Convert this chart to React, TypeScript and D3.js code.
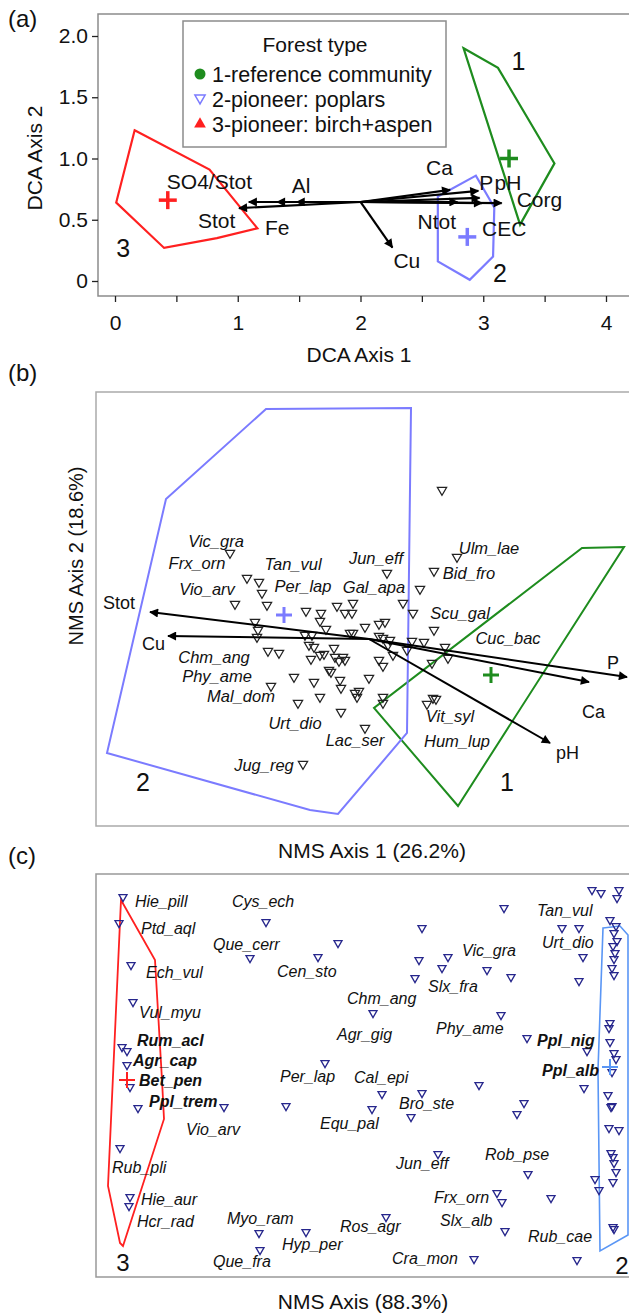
import React, { useEffect, useRef } from 'react';
import * as d3 from 'd3';

const FONT = '"Liberation Sans", Arial, Helvetica, sans-serif';
const GREEN = '#1e8c1e';
const BLUE = '#7b7bff';
const RED = '#ff2020';
const BLUE_C = '#5a96f5';
const NAVY = '#26268c';
const FRAME = '#8c8c8c';

// ---------- panel (a): DCA of soil variables ----------
const dcaXTicks = [0, 0.5, 1, 1.5, 2, 2.5, 3, 3.5, 4];
const dcaYTicks = [0, 0.5, 1, 1.5, 2];
const dcaHull1 = [[2.84, 1.90], [3.12, 1.74], [3.58, 0.96], [3.30, 0.46]];
const dcaHull2 = [[2.63, 0.69], [2.94, 0.86], [3.09, 0.60], [3.08, 0.20], [2.89, 0.01], [2.63, 0.16]];
const dcaHull3 = [[0.16, 1.23], [0.77, 0.91], [1.16, 0.43], [0.83, 0.35], [0.40, 0.27], [0.01, 0.64]];
const dcaCentroids = [[3.21, 1.00], [2.87, 0.36], [0.43, 0.66]];
const dcaGroupLabels = [['1', 3.23, 1.72], ['2', 3.08, -0.01], ['3', 0.01, 0.20]];
const dcaOrigin = [2.0, 0.645];
const dcaVectors = [
  ['Stot', 1.01, 0.595],
  ['SO4/Stot', 1.09, 0.645],
  ['Fe', 1.32, 0.645],
  ['Al', 1.48, 0.645],
  ['Ca', 2.73, 0.744],
  ['P', 2.96, 0.736],
  ['pH', 2.97, 0.678],
  ['Ntot', 2.79, 0.645],
  ['CEC', 2.99, 0.636],
  ['Corg', 3.15, 0.636],
  ['Cu', 2.26, 0.273],
];
// label offsets (px) from arrow head: left x, baseline
const dcaLabelOffset = {
  Stot: [-41, 20], 'SO4/Stot': [-82, -13], Fe: [-12, 33], Al: [-5, -9], Ca: [-24, -15],
  P: [1, -1], pH: [15, -8], Ntot: [-40, 27], CEC: [0, 33], Corg: [15, 4], Cu: [1, 20],
};
const legendTitle = 'Forest type';
const legendItems = ['1-reference community', '2-pioneer: poplars', '3-pioneer: birch+aspen'];

// ---------- panel (b): NMS of species ----------
const nmsBHull1 = [[2.16, 0.92], [2.58, 0.93], [0.92, -1.66], [0.08, -0.68]];
const nmsBHull2 = [[-1.00, 2.31], [0.45, 2.32], [0.41, -0.93], [-0.28, -1.74], [-0.56, -1.70], [-2.59, -1.13], [-2.00, 1.41]];
const nmsBCentroids = [[1.25, -0.35], [-0.82, 0.25]];
const nmsBGroupLabels = [['1', 1.34, -1.51], ['2', -2.30, -1.51]];
const nmsBOrigin = [0.03, 0.01];
const nmsBVectors = [
  ['Stot', -2.16, 0.28],
  ['Cu', -1.98, 0.04],
  ['P', 2.61, -0.37],
  ['Ca', 2.23, -0.42],
  ['pH', 1.84, -1.03],
];
const nmsBLabelOffset = { Stot: [-47, -3], Cu: [-26, 14], P: [-20, -8], Ca: [-7, 36], pH: [6, 16] };
const nmsBSpecies = [
  ['Vic_gra', -1.50, 0.99], ['Frx_orn', -1.69, 0.77], ['Tan_vul', -0.73, 0.76], ['Jun_eff', 0.10, 0.82],
  ['Ulm_lae', 1.23, 0.92], ['Bid_fro', 1.03, 0.67], ['Vio_arv', -1.59, 0.51], ['Per_lap', -0.63, 0.54],
  ['Gal_apa', 0.08, 0.53], ['Scu_gal', 0.94, 0.27], ['Cuc_bac', 1.42, 0.02], ['Chm_ang', -1.52, -0.17],
  ['Phy_ame', -1.49, -0.36], ['Mal_dom', -1.25, -0.56], ['Urt_dio', -0.71, -0.83], ['Vit_syl', 0.84, -0.76],
  ['Lac_ser', -0.11, -1.00], ['Hum_lup', 0.91, -1.01], ['Jug_reg', -1.02, -1.25],
];
const nmsBPoints = [
  [0.76, 1.50], [-1.36, 0.87], [0.91, 0.83], [0.21, 0.67], [0.68, 0.69], [-1.19, 0.62], [-1.07, 0.58],
  [-1.04, 0.47], [-1.31, 0.36], [-0.99, 0.35], [-0.60, 0.29], [-0.45, 0.27], [-0.29, 0.34], [-0.13, 0.37],
  [-0.21, 0.27], [-0.14, 0.27], [0.54, 0.51], [0.37, 0.37], [0.47, 0.27], [0.68, 0.10], [-0.46, 0.19],
  [-0.40, 0.11], [-1.11, 0.18], [-1.08, 0.10], [-1.09, 0.03], [-0.61, 0.05], [-0.54, 0.05], [-0.57, -0.05],
  [-0.52, -0.07], [-0.16, 0.07], [-0.13, 0.07], [-0.01, 0.13], [0.13, 0.16], [0.19, 0.18], [0.13, 0.04],
  [0.17, 0.02], [0.24, 0.00], [0.22, -0.05], [0.46, -0.01], [0.58, -0.02], [0.41, -0.10], [0.79, -0.07],
  [0.82, -0.18], [0.66, -0.23], [0.27, -0.15], [-0.98, -0.11], [-0.87, -0.13], [-0.55, -0.19], [-0.46, -0.15],
  [-0.42, -0.14], [-0.32, -0.08], [-0.31, -0.17], [-0.23, -0.17], [-0.21, -0.20], [-0.27, -0.21], [0.13, -0.20],
  [0.17, -0.26], [-0.37, -0.30], [-0.35, -0.32], [-0.72, -0.37], [-0.52, -0.42], [-0.26, -0.40], [0.03, -0.38],
  [-0.95, -0.46], [-0.07, -0.51], [-0.11, -0.53], [-0.25, -0.48], [-0.46, -0.57], [-0.09, -0.57], [0.17, -0.57],
  [0.17, -0.63], [-0.68, -0.63], [-0.25, -0.72], [-0.01, -0.88], [0.67, -0.58], [0.70, -0.59], [0.61, -0.64],
  [-0.63, -1.24],
];

// ---------- panel (c): NMS of tree/understorey species ----------
const nmsCHull3 = [[-2.41, 1.75], [-2.07, 1.15], [-2.00, -0.05], [-1.98, -0.44], [-2.39, -1.71], [-2.42, -1.68], [-2.54, -1.11]];
const nmsCHull2 = [[2.41, 1.47], [2.58, 1.49], [2.66, 1.40], [2.66, -1.60], [2.38, -1.76], [2.36, 0.05]];
const nmsCCentroids = [[-2.35, -0.05], [2.48, 0.08]];
const nmsCGroupLabels = [['3', -2.39, -1.96], ['2', 2.60, -1.99]];
const nmsCSpecies = [
  ['Hie_pill', -2.27, 1.74, 0], ['Ptd_aql', -2.21, 1.47, 0], ['Ech_vul', -2.16, 1.03, 0], ['Vul_myu', -2.23, 0.63, 0],
  ['Rum_acl', -2.25, 0.35, 1], ['Agr_cap', -2.29, 0.15, 1], ['Bet_pen', -2.23, -0.05, 1], ['Ppl_trem', -2.13, -0.26, 1],
  ['Vio_arv', -1.76, -0.54, 0], ['Rub_pli', -2.50, -0.92, 0], ['Hie_aur', -2.21, -1.24, 0], ['Hcr_rad', -2.25, -1.46, 0],
  ['Cys_ech', -1.30, 1.74, 0], ['Que_cerr', -1.49, 1.31, 0], ['Cen_sto', -0.85, 1.04, 0], ['Chm_ang', -0.15, 0.77, 0],
  ['Agr_gig', -0.25, 0.41, 0], ['Per_lap', -0.82, -0.01, 0], ['Cal_epi', -0.08, -0.02, 0], ['Equ_pal', -0.42, -0.48, 0],
  ['Myo_ram', -1.35, -1.43, 0], ['Hyp_per', -0.80, -1.69, 0], ['Que_fra', -1.49, -1.86, 0], ['Ros_agr', -0.22, -1.51, 0],
  ['Bro_ste', 0.37, -0.28, 0], ['Jun_eff', 0.34, -0.88, 0], ['Rob_pse', 1.23, -0.79, 0], ['Frx_orn', 0.72, -1.22, 0],
  ['Slx_alb', 0.78, -1.45, 0], ['Rub_cae', 1.66, -1.61, 0], ['Cra_mon', 0.30, -1.83, 0], ['Tan_vul', 1.75, 1.65, 0],
  ['Urt_dio', 1.80, 1.33, 0], ['Vic_gra', 1.00, 1.25, 0], ['Slx_fra', 0.66, 0.89, 0], ['Phy_ame', 0.74, 0.47, 0],
  ['Ppl_nig', 1.75, 0.35, 1], ['Ppl_alb', 1.80, 0.05, 1],
];
const nmsCPoints = [
  [-2.39, 1.78], [-2.43, 1.52], [-2.31, 1.10], [-2.29, 0.73], [-2.40, 0.28], [-2.35, 0.24], [-2.35, 0.10],
  [-2.32, -0.12], [-2.24, -0.33], [-2.42, -0.73], [-2.32, -1.22], [-2.33, -1.31],
  [-0.96, 1.53], [-1.12, 1.17], [-0.44, 1.18], [-0.24, 1.32], [0.11, 0.62], [-0.37, 0.12], [-1.38, -0.32],
  [-0.76, -0.31], [0.10, -0.34], [0.20, -0.19], [0.60, -0.18], [0.49, -0.42], [-1.03, -1.58], [-0.56, -1.57],
  [-1.02, -1.75], [0.24, -1.42], [1.42, 1.67], [0.60, 1.47], [0.57, 1.15], [0.86, 1.18], [0.80, 1.07],
  [0.53, 0.97], [1.25, 1.05], [1.49, 0.98], [2.00, 1.47], [2.17, 1.47], [2.21, 1.18], [2.17, 0.94],
  [1.39, 0.60], [1.65, 0.37], [2.25, 0.24], [1.17, -0.10], [2.22, -0.13], [1.62, -0.28], [1.55, -0.39],
  [0.76, -0.79], [1.66, -0.99], [1.35, -1.18], [1.40, -1.27], [1.89, -1.23], [1.43, -1.56], [1.12, -1.84],
  [2.15, -1.85], [2.33, -1.04], [2.37, -1.15],
  [2.30, 1.85], [2.39, 1.82], [2.57, 1.85], [2.55, 1.77], [2.48, 1.55], [2.54, 1.49], [2.52, 1.42],
  [2.55, 1.34], [2.51, 1.29], [2.53, 1.22], [2.52, 1.16], [2.50, 1.07], [2.52, 1.00], [2.48, 0.52],
  [2.47, 0.47], [2.48, 0.33], [2.52, 0.22], [2.54, 0.16], [2.50, 0.03], [2.46, -0.20], [2.49, -0.32],
  [2.50, -0.31], [2.47, -0.53], [2.57, -0.55], [2.49, -0.78], [2.51, -0.82], [2.52, -0.88], [2.54, -0.97],
  [2.51, -1.07], [2.51, -1.52], [2.52, -1.54],
];

// ---------- scales ----------
const xA = d3.scaleLinear().domain([0, 4]).range([115, 606]);
const yA = d3.scaleLinear().domain([0, 2]).range([281, 36]);
const xB = d3.scaleLinear().domain([-2.7, 2.74]).range([96, 640]);
const yB = d3.scaleLinear().domain([-1.86, 2.48]).range([826, 392]);
const xC = d3.scaleLinear().domain([-2.66, 2.78]).range([96, 640]);
const yC = d3.scaleLinear().domain([-2.02, 2.01]).range([1277, 874]);

const hullPath = (pts, sx, sy) =>
  d3.line().x((d) => sx(d[0])).y((d) => sy(d[1])).curve(d3.curveLinearClosed)(pts);

const downTri = (size) => d3.symbol().type(d3.symbolTriangle).size(size)();

const Cross = ({ x, y, r, color, w }) => (
  <g stroke={color} strokeWidth={w}>
    <line x1={x - r} x2={x + r} y1={y} y2={y} />
    <line x1={x} x2={x} y1={y - r} y2={y + r} />
  </g>
);

const App = () => {
  const xAxisRef = useRef(null);
  const yAxisRef = useRef(null);

  useEffect(() => {
    const gx = d3.select(xAxisRef.current);
    gx.call(d3.axisBottom(xA).tickValues(dcaXTicks).tickSize(6).tickPadding(13)
      .tickFormat((d) => (Number.isInteger(d) ? String(d) : '')));
    gx.select('.domain').remove();
    gx.attr('font-size', 21).attr('font-family', FONT);
    gx.selectAll('line').attr('stroke', '#222').attr('stroke-width', 1.3);
    gx.selectAll('text').attr('fill', '#111');

    const gy = d3.select(yAxisRef.current);
    gy.call(d3.axisLeft(yA).tickValues(dcaYTicks).tickSize(6).tickPadding(4)
      .tickFormat((d) => (d === 0 ? '0' : d3.format('.1f')(d))));
    gy.select('.domain').remove();
    gy.attr('font-size', 21).attr('font-family', FONT);
    gy.selectAll('line').attr('stroke', '#222').attr('stroke-width', 1.3);
    gy.selectAll('text').attr('fill', '#111');
  }, []);

  const triB = downTri(38);
  const triC = downTri(28);
  const dcaColors = [GREEN, BLUE, RED];
  const legendSymbols = [
    <circle key="c" cx={200} cy={74} r={5.5} fill={GREEN} />,
    <path key="t" d={downTri(45)} transform="translate(200,98) rotate(180)" fill="none" stroke={BLUE} strokeWidth={1.5} />,
    <path key="u" d={d3.symbol().type(d3.symbolTriangle).size(60)()} transform="translate(200,124)" fill={RED} />,
  ];

  return (
    <svg width={629} height={1315} style={{ position: 'absolute', left: 0, top: 0 }}
      fontFamily={FONT} fill="#111">
      <defs>
        <marker id="headA" viewBox="0 0 10 10" refX="9" refY="5" markerWidth="13" markerHeight="9"
          markerUnits="userSpaceOnUse" orient="auto">
          <path d="M0,0 L10,5 L0,10 z" fill="#000" />
        </marker>
        <marker id="headB" viewBox="0 0 10 10" refX="9" refY="5" markerWidth="15" markerHeight="9"
          markerUnits="userSpaceOnUse" orient="auto">
          <path d="M0,0 L10,5 L0,10 z" fill="#000" />
        </marker>
      </defs>

      {/* ---------- (a) ---------- */}
      <text x={8} y={27} fontSize={24}>(a)</text>
      <path d="M640,14 H98 V296 H640" fill="none" stroke={FRAME} strokeWidth={1.5} />
      <g ref={xAxisRef} transform="translate(0,296)" />
      <g ref={yAxisRef} transform="translate(98,0)" />
      <text x={359} y={362} fontSize={21} textAnchor="middle">DCA  Axis 1</text>
      <text transform="translate(42,158) rotate(-90)" fontSize={21} textAnchor="middle">DCA  Axis 2</text>

      {[dcaHull1, dcaHull2, dcaHull3].map((h, i) => (
        <path key={i} d={hullPath(h, xA, yA)} fill="none" stroke={dcaColors[i]} strokeWidth={2.2} />
      ))}
      {dcaCentroids.map((c, i) => (
        <Cross key={i} x={xA(c[0])} y={yA(c[1])} r={9} color={dcaColors[i]} w={3.5} />
      ))}
      {dcaGroupLabels.map(([t, x, y]) => (
        <text key={t} x={xA(x)} y={yA(y)} fontSize={25}>{t}</text>
      ))}
      {dcaVectors.map(([name, x, y]) => (
        <line key={name} x1={xA(dcaOrigin[0])} y1={yA(dcaOrigin[1])} x2={xA(x)} y2={yA(y)}
          stroke="#000" strokeWidth={2.2} markerEnd="url(#headA)" />
      ))}
      {dcaVectors.map(([name, x, y]) => (
        <text key={name} x={xA(x) + dcaLabelOffset[name][0]} y={yA(y) + dcaLabelOffset[name][1]}
          fontSize={21}>{name}</text>
      ))}

      <rect x={183} y={21} width={263} height={126} fill="#fff" stroke={FRAME} strokeWidth={1.5} />
      <text x={315} y={52} fontSize={21} textAnchor="middle">{legendTitle}</text>
      {legendSymbols}
      {legendItems.map((t, i) => (
        <text key={t} x={212} y={82 + i * 25} fontSize={21.5}>{t}</text>
      ))}

      {/* ---------- (b) ---------- */}
      <text x={8} y={381} fontSize={24}>(b)</text>
      <path d="M640,392 H96 V826 H640" fill="none" stroke="#aaa" strokeWidth={1.5} />
      <text x={372} y={858} fontSize={21} textAnchor="middle">NMS Axis 1 (26.2%)</text>
      <text transform="translate(83,556) rotate(-90)" fontSize={20} textAnchor="middle">NMS Axis 2 (18.6%)</text>

      {[nmsBHull1, nmsBHull2].map((h, i) => (
        <path key={i} d={hullPath(h, xB, yB)} fill="none" stroke={[GREEN, BLUE][i]} strokeWidth={2} />
      ))}
      {nmsBPoints.map((p, i) => (
        <path key={i} d={triB} transform={`translate(${xB(p[0])},${yB(p[1])}) rotate(180)`}
          fill="none" stroke="#222" strokeWidth={1.2} />
      ))}
      {nmsBCentroids.map((c, i) => (
        <Cross key={i} x={xB(c[0])} y={yB(c[1])} r={8} color={[GREEN, BLUE][i]} w={3} />
      ))}
      {nmsBVectors.map(([name, x, y]) => (
        <line key={name} x1={xB(nmsBOrigin[0])} y1={yB(nmsBOrigin[1])} x2={xB(x)} y2={yB(y)}
          stroke="#000" strokeWidth={2} markerEnd="url(#headB)" />
      ))}
      {nmsBVectors.map(([name, x, y]) => (
        <text key={name} x={xB(x) + nmsBLabelOffset[name][0]} y={yB(y) + nmsBLabelOffset[name][1]}
          fontSize={18}>{name}</text>
      ))}
      {nmsBSpecies.map(([name, x, y]) => (
        <text key={name} x={xB(x)} y={yB(y) + 6} fontSize={16.5} fontStyle="italic" textAnchor="middle">{name}</text>
      ))}
      {nmsBGroupLabels.map(([t, x, y]) => (
        <text key={t} x={xB(x)} y={yB(y)} fontSize={25}>{t}</text>
      ))}

      {/* ---------- (c) ---------- */}
      <text x={8} y={864} fontSize={24}>(c)</text>
      <path d="M640,874 H96 V1277 H640" fill="none" stroke="#999" strokeWidth={1.5} />
      <text x={363} y={1309} fontSize={21} textAnchor="middle">NMS Axis (88.3%)</text>

      <path d={hullPath(nmsCHull3, xC, yC)} fill="none" stroke={RED} strokeWidth={1.8} />
      <path d={hullPath(nmsCHull2, xC, yC)} fill="none" stroke={BLUE_C} strokeWidth={1.6} />
      {nmsCPoints.map((p, i) => (
        <path key={i} d={triC} transform={`translate(${xC(p[0])},${yC(p[1])}) rotate(180)`}
          fill="none" stroke={NAVY} strokeWidth={1.3} />
      ))}
      <Cross x={xC(nmsCCentroids[0][0])} y={yC(nmsCCentroids[0][1])} r={8} color={RED} w={2} />
      <Cross x={xC(nmsCCentroids[1][0])} y={yC(nmsCCentroids[1][1])} r={8} color={BLUE_C} w={2} />
      {nmsCSpecies.map(([name, x, y, b]) => (
        <text key={name} x={xC(x)} y={yC(y) + 6} fontSize={16} fontStyle="italic"
          fontWeight={b ? 'bold' : 'normal'}>{name}</text>
      ))}
      {nmsCGroupLabels.map(([t, x, y]) => (
        <text key={t} x={xC(x)} y={yC(y)} fontSize={24} textAnchor="middle">{t}</text>
      ))}
    </svg>
  );
};

export default App;
